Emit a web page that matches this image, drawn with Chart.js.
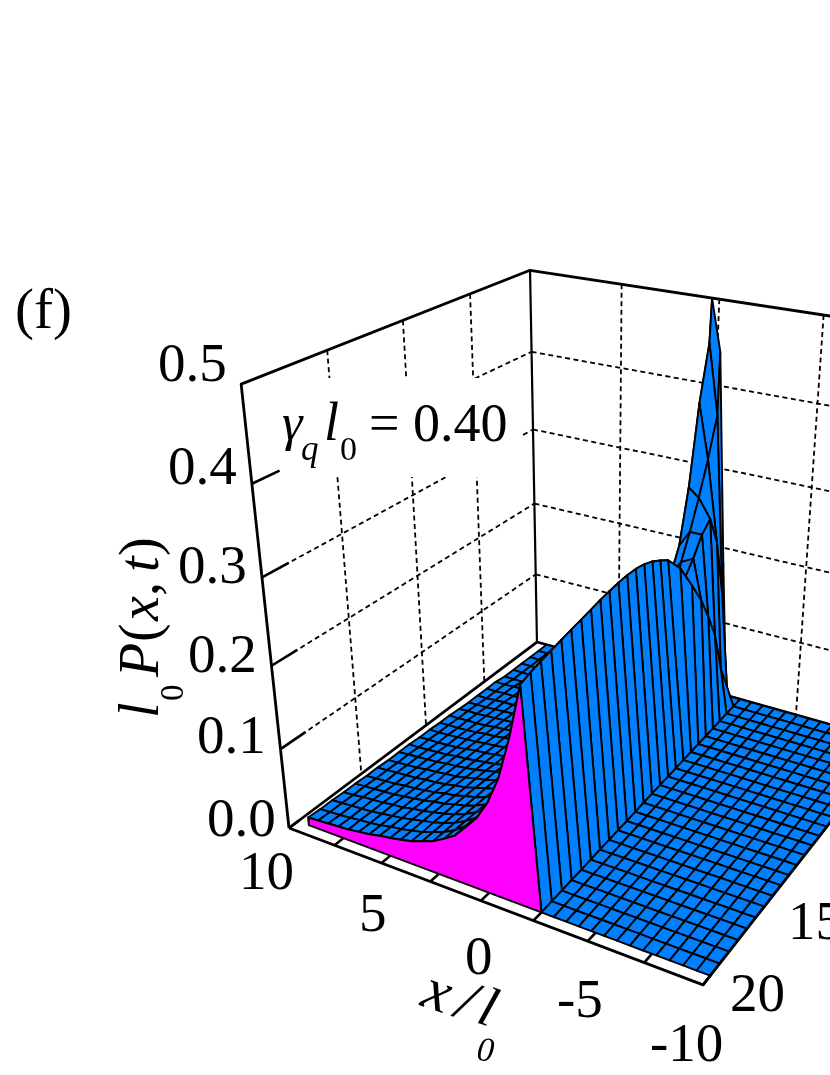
<!DOCTYPE html>
<html><head><meta charset="utf-8">
<style>html,body{margin:0;padding:0;background:#fff}canvas{display:block}</style>
<script src="https://cdn.jsdelivr.net/npm/chart.js@4"></script>
</head><body><canvas id="c" width="830" height="1075"></canvas>
<script>
// ---- tick labels ----
const zTicks = [0.0, 0.1, 0.2, 0.3, 0.4, 0.5];
const zTickLabels = ["0.0", "0.1", "0.2", "0.3", "0.4", "0.5"];
const xTicks = [10, 7.5, 5, 2.5, 0, -2.5, -5, -7.5, -10];
const xTickLabels = ["10", "5", "0", "-5", "-10"];
const tTickLabels = ["20", "15"];
const xGridValues = [5, 0, -5];
const tGridValues = [15, 10, 5];
const zGridValues = [0.1, 0.2, 0.3, 0.4];

// ---- surface ----
const tRows = [0,0.81,1.62,2.43,3.23,4.04,4.85,5.66,6.47,7.28,8.08,8.89,9.7,10.51,11.32,12.13,12.93,13.74,14.55,15.36,16.17,16.98,17.78,18.59,19.4];
const baseX = [-1.98,-2,-2.02,-2.04,-2.07,-2.09,-2.11,-2.13,-2.15,-2.18,-2.2,-2.22,-2.24,-2.26,-2.29,-2.31,-2.33,-2.35,-2.37,-2.4,-2.42,-2.44,-2.46,-2.48,-2.5];
const crestX = [-1.2,-1.6,-1.6,-1.6,-1.6,-1.6,-1.5,-1.3,-1.1,-1.14,-1.18,-1.22,-1.26,-1.3,-1.34,-1.38,-1.42,-1.46,-1.49,-1.52,-1.56,-1.6,-1.64,-1.69,-1.75];
const leftEdgeX = 9.4;
const floorCells = 13;
const nearSpikeColumns = [0,0.043,0.099,0.147,0.197,0.247,0.298,0.348,0.398,0.448,0.498,0.549,0.599,0.649,0.699,0.749,0.8,0.85,0.9,0.95,1];
const farColumns = [0,0.05,0.1,0.15,0.2,0.25,0.3,0.35,0.4,0.45,0.5,0.55,0.6,0.65,0.7,0.75,0.8,0.85,0.9,0.95,1];
// thousandths of l0 P, crest first, then towards x = +10 (missing values are zero)
const surfaceRows = [
[0,180,440,500],
[25,150,372,455,50,8,2],
[60,225,325,390,85,22,7,2,1],
[115,262,285,295,105,42,18,8,4,2,1],
[148,250,250,230,105,55,30,18,11,7,4,3,2,1,1],
[178,228,220,200,102,60,38,25,17,12,8,6,4,3,2,2,1],
[205,205,150,118,85,65,48,36,28,22,17,14,11,9,7,5,4,3,3,2,2],
[233,152,98,68,50,39,30,25,20,16,13,11,9,8,6,5,4,3,3,2,2],
[250,150,96,66,49,38,30,25,20,16,13,11,10,8,7,5,4,4,3,2,2],
[258,157,102,71,53,41,32,27,21,17,14,12,10,9,7,6,5,4,3,3,2],
[265,164,108,77,57,43,34,28,23,19,15,13,11,10,8,7,6,5,4,4,3],
[270,171,113,82,62,45,36,29,24,20,17,14,12,11,9,8,6,5,5,4,4],
[273,178,119,88,66,47,37,31,26,22,18,15,13,12,10,9,7,6,5,5,4],
[274,180,122,90,69,49,39,32,27,23,19,16,14,12,11,9,8,7,6,5,5],
[274,183,125,92,71,51,41,34,28,24,20,17,15,13,12,10,8,7,6,6,5],
[273,185,128,95,73,53,43,35,30,25,21,18,16,14,12,11,9,8,7,6,6],
[272,187,131,97,76,55,45,37,31,27,23,20,17,15,13,12,10,9,8,7,6],
[270,188,133,99,78,58,46,38,32,28,24,21,18,15,14,12,11,9,8,7,6],
[268,189,135,101,80,60,47,39,33,29,25,21,19,16,14,13,11,10,9,8,7],
[266,190,137,103,81,64,49,40,34,29,26,22,20,17,15,13,12,10,9,8,7],
[264,191,139,105,83,67,50,41,35,30,27,23,21,18,16,14,12,11,10,9,8],
[262,192,140,106,84,68,52,43,36,31,27,24,21,19,16,15,13,12,11,9,8],
[260,192,141,107,85,69,53,44,37,32,28,25,22,19,17,15,13,12,11,10,9],
[258,193,142,109,86,70,55,45,38,33,28,25,22,20,17,15,14,12,11,10,9],
[255,193,143,110,87,71,56,47,39,34,29,26,23,21,18,16,14,13,12,11,10]
];

// ---- view of the 3D box (perspective camera) ----
const view = {ox:289, oy:828, vx:[-2337,-167], vt:[1589,-147], vz:[593,3648], a:-0.1362, b:0.2357, c:-0.136};
function project(x, t, p){
  const u=(10-x)/20, v=(20-t)/20, w=p/0.5;
  const d=1+view.a*u+view.b*v+view.c*w;
  return {x:(view.ox+view.a*u*view.vx[0]+view.b*v*view.vt[0]+view.c*w*view.vz[0])/d,
          y:(view.oy+view.a*u*view.vx[1]+view.b*v*view.vt[1]+view.c*w*view.vz[1])/d};
}
const BLUE='#0080FF', MAGENTA='#FF00FF';
const sets=[];   // pushed back to front
function path(points,o){ sets.push(Object.assign({data:points,showLine:true,fill:false,borderColor:'#000',borderWidth:2.8,pointRadius:0,pointHitRadius:0,borderCapStyle:'butt',borderJoinStyle:'round',clip:false},o||{})); }
const dash={borderWidth:1.8,borderDash:[5,3.5]};

// walls: dashed grid
tGridValues.forEach(t=>path([project(10,t,0.5),project(10,t,0)],dash));
xGridValues.forEach(x=>path([project(x,0,0.5),project(x,0,0)],dash));
zGridValues.forEach(z=>{
  path([project(10,20,z),project(10,0,z)],dash);
  path([project(10,0,z),project(-10,0,z)],dash);
});
// white box behind the annotation
const maskCorners=[[252,378],[522,378],[522,477],[252,477]];
path(maskCorners.concat([maskCorners[0]]).map(c=>({x:c[0],y:c[1]})),{fill:'shape',backgroundColor:'#fff',borderColor:'#fff',borderWidth:0});
// z ticks
zGridValues.forEach(z=>path([project(10,20,z),project(10,18.4,z)],{borderWidth:2.6}));
// box
path([project(10,20,0),project(10,20,0.5),project(10,0,0.5),project(-10,0,0.5)]);
path([project(10,0,0.5),project(10,0,0)],{borderWidth:2.2});
path([project(10,20,0),project(10,0,0)]);
path([project(10,0,0),project(-10,0,0)]);
xTicks.forEach(x=>path([project(x,20,0),project(x,19.35,0)],{borderWidth:2.6}));

// surface, far rows first, x = +10 side first
const edge={borderWidth:1.9,borderColor:'#000',backgroundColor:BLUE,fill:'shape'};
function rowNodes(j){
  const nodes=[];
  for(let k=0;k<=floorCells;k++) nodes.push([-10+(baseX[j]+10)*k/floorCells,0]);
  const cols=j<7?nearSpikeColumns:farColumns;
  cols.forEach((f,i)=>{
    const val=surfaceRows[j][i]||0;
    nodes.push([crestX[j]+(leftEdgeX-crestX[j])*f,val/1000]);
  });
  return nodes;
}
const grid=tRows.map((t,j)=>rowNodes(j).map(n=>project(n[0],t,n[1])));
for(let j=0;j<tRows.length-1;j++){
  for(let i=grid[j].length-2;i>=0;i--){
    path([grid[j][i],grid[j][i+1],grid[j+1][i+1],grid[j+1][i],grid[j][i]],edge);
  }
}
// magenta skirt under the front row
{
  const last=tRows.length-1, front=rowNodes(last);
  const top=grid[last].slice(floorCells+1);
  const bottom=front.slice(floorCells+1).map(n=>project(n[0],tRows[last],0)).reverse();
  const base=project(baseX[last],tRows[last],0);
  path(top.concat([bottom[0],base,top[0]]),{fill:'shape',backgroundColor:MAGENTA,borderColor:'#000',borderWidth:2});
}
// front axes
path([project(10,20,0),project(-10,20,0),project(-10,0,0)]);

const F="'Liberation Serif','Times New Roman',serif";
const texts=[
 {s:"(f)",x:15,y:328,f:"57px "+F},
 {s:zTickLabels[5],x:158,y:381,f:"55px "+F},
 {s:zTickLabels[4],x:168,y:484,f:"55px "+F},
 {s:zTickLabels[3],x:178,y:583,f:"55px "+F},
 {s:zTickLabels[2],x:188,y:672,f:"55px "+F},
 {s:zTickLabels[1],x:197,y:753,f:"55px "+F},
 {s:zTickLabels[0],x:207,y:836,f:"55px "+F},
 {s:xTickLabels[0],x:239,y:889,f:"55px "+F},
 {s:xTickLabels[1],x:359,y:931,f:"55px "+F},
 {s:xTickLabels[2],x:465,y:974,f:"55px "+F},
 {s:xTickLabels[3],x:557,y:1017,f:"55px "+F},
 {s:xTickLabels[4],x:650,y:1061,f:"55px "+F},
 {s:tTickLabels[0],x:730,y:1011,f:"55px "+F},
 {s:tTickLabels[1],x:788,y:939,f:"55px "+F},
 {s:"\u03B3",x:282,y:440,f:"italic 52px "+F},
 {s:"q",x:301,y:460,f:"italic 35px "+F},
 {s:"l",x:324,y:440,f:"italic 54px "+F},
 {s:"0",x:340,y:460,f:"34px "+F},
 {s:"= 0.40",x:369,y:441,f:"54px "+F}
];
const rotated=[
 {s:"l",x:158,y:718,a:-Math.PI/2,f:"italic 56px "+F},
 {s:"0",x:183,y:701,a:-Math.PI/2,f:"33px "+F},
 {s:"P",x:158,y:677,a:-Math.PI/2,f:"italic 56px "+F},
 {s:"(",x:158,y:642,a:-Math.PI/2,f:"56px "+F},
 {s:"x",x:158,y:621,a:-Math.PI/2,f:"italic 56px "+F},
 {s:",",x:158,y:596,a:-Math.PI/2,f:"56px "+F},
 {s:"t",x:158,y:572,a:-Math.PI/2,f:"italic 56px "+F},
 {s:")",x:158,y:556,a:-Math.PI/2,f:"56px "+F},
 {s:"x",x:419,y:1005,a:0.33,f:"italic 60px "+F},
 {s:"/",x:453,y:1016,a:0.33,f:"italic 58px "+F},
 {s:"l",x:475,y:1022,a:0.33,f:"italic 56px "+F},
 {s:"0",x:476,y:1060,a:0.1,f:"italic 34px "+F}
];
const labelPlugin={id:'labels',afterDraw(ch){
  const c=ch.ctx, sx=ch.scales.x, sy=ch.scales.y;
  c.save(); c.fillStyle='#000'; c.textBaseline='alphabetic'; c.textAlign='left';
  texts.forEach(t=>{c.font=t.f;c.fillText(t.s,sx.getPixelForValue(t.x),sy.getPixelForValue(t.y));});
  rotated.forEach(t=>{c.save();c.translate(sx.getPixelForValue(t.x),sy.getPixelForValue(t.y));c.rotate(t.a);c.font=t.f;c.fillText(t.s,0,0);c.restore();});
  c.restore();
}};

new Chart(document.getElementById('c'),{
  type:'scatter',
  data:{datasets:sets.slice().reverse()},
  options:{responsive:false,animation:false,events:[],
    layout:{padding:0},
    plugins:{legend:{display:false},tooltip:{enabled:false},title:{display:false}},
    scales:{x:{type:'linear',min:0,max:830,display:false},y:{type:'linear',min:0,max:1075,reverse:true,display:false}}
  },
  plugins:[labelPlugin]
});
</script></body></html>
